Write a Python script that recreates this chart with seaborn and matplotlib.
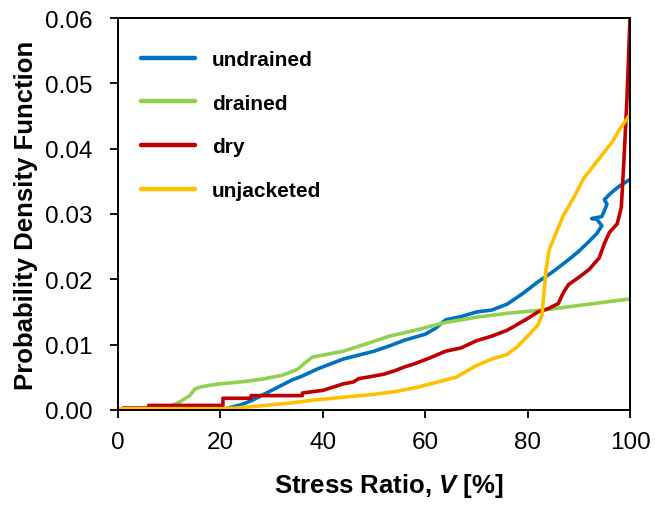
import matplotlib
matplotlib.use("Agg")
import matplotlib.pyplot as plt
import seaborn as sns
import pandas as pd
from matplotlib.ticker import FormatStrFormatter

# ---------------- data ----------------
undrained_x = [0, 20, 22, 24, 26, 28, 30, 32, 34, 36, 39, 42, 44, 47, 50, 53, 56, 60, 62, 64,
               67, 70, 73, 76, 79, 82, 85, 88, 90, 92, 93.5, 94.5, 93.5, 92.5, 94.5, 95, 95.5,
               95, 96, 97, 98, 100]
undrained_y = [0, 0, 0.0004, 0.0008, 0.0014, 0.0022, 0.0030, 0.0038, 0.0046, 0.0052, 0.0063,
               0.0072, 0.0078, 0.0084, 0.0090, 0.0098, 0.0107, 0.0116, 0.0125, 0.0138, 0.0143,
               0.0150, 0.0153, 0.0162, 0.0178, 0.0196, 0.0212, 0.0230, 0.0243, 0.0258, 0.0270,
               0.0282, 0.0292, 0.0293, 0.0296, 0.0305, 0.0315, 0.0322, 0.0330, 0.0337, 0.0343,
               0.0353]

drained_x = [0, 9, 10, 12, 14, 15, 16, 18, 20, 24, 28, 32, 35, 36.5, 38, 40, 44, 48, 53, 58,
             64, 70, 76, 84, 92, 100]
drained_y = [0, 0, 0.0005, 0.0012, 0.0022, 0.0032, 0.0035, 0.0038, 0.0040, 0.0043, 0.0047,
             0.0053, 0.0062, 0.0072, 0.0081, 0.0084, 0.0090, 0.0100, 0.0113, 0.0122, 0.0134,
             0.0142, 0.0148, 0.0154, 0.0162, 0.0170]

dry_x = [0, 1, 1, 6, 6, 20.5, 20.5, 26, 26, 36, 36, 40, 42, 44, 46, 47, 50, 52, 54, 56, 58,
         61, 64, 67, 70, 73, 76, 78, 80, 82, 84, 86, 87, 88, 90, 92, 94, 95, 96, 97.5, 98.3,
         98.8, 99.4, 100]
dry_y = [0, 0, 0.0003, 0.0003, 0.0007, 0.0007, 0.0018, 0.0018, 0.0022, 0.0022, 0.0026, 0.0030,
         0.0035, 0.0040, 0.0043, 0.0048, 0.0052, 0.0055, 0.0060, 0.0066, 0.0071, 0.0080, 0.0090,
         0.0095, 0.0106, 0.0113, 0.0122, 0.0131, 0.0140, 0.0150, 0.0155, 0.0163, 0.0180, 0.0192,
         0.0203, 0.0215, 0.0233, 0.0255, 0.0272, 0.0285, 0.0310, 0.0380, 0.0475, 0.0600]

unjacketed_x = [0, 10, 20, 23, 26, 30, 34, 38, 42, 46, 50, 54, 58, 62, 66, 70, 73, 76, 78, 80,
                82, 82.8, 83.2, 83.6, 84.2, 85.5, 87, 89, 91, 93, 95, 96.5, 98, 100]
unjacketed_y = [0.0002, 0.0002, 0.0002, 0.0003, 0.0005, 0.0008, 0.0011, 0.0015, 0.0018, 0.0021,
                0.0024, 0.0028, 0.0034, 0.0042, 0.0050, 0.0068, 0.0078, 0.0085, 0.0097, 0.0113,
                0.0130, 0.0145, 0.0180, 0.0215, 0.0245, 0.0270, 0.0298, 0.0325, 0.0355, 0.0375,
                0.0395, 0.0410, 0.0430, 0.0452]

series_names = ["undrained", "drained", "dry", "unjacketed"]
series_colors = ["#0070C0", "#92D050", "#C00000", "#FFC000"]
x_ticks = [0, 20, 40, 60, 80, 100]
y_ticks = [0.00, 0.01, 0.02, 0.03, 0.04, 0.05, 0.06]

frames = []
for name, xs, ys in zip(series_names,
                        [undrained_x, drained_x, dry_x, unjacketed_x],
                        [undrained_y, drained_y, dry_y, unjacketed_y]):
    frames.append(pd.DataFrame({"x": xs, "y": ys, "series": name}))
df = pd.concat(frames, ignore_index=True)

# ---------------- plot ----------------
sns.set_theme(style="white")
plt.rcParams["font.family"] = ["Liberation Sans", "DejaVu Sans"]
plt.rcParams["text.color"] = "black"
plt.rcParams["axes.labelcolor"] = "black"
plt.rcParams["mathtext.fontset"] = "custom"
plt.rcParams["mathtext.rm"] = "Liberation Sans:bold"
plt.rcParams["mathtext.it"] = "Liberation Sans:italic:bold"
plt.rcParams["mathtext.bf"] = "Liberation Sans:bold"

fig = plt.figure(figsize=(6.55, 5.06), dpi=100)
ax = fig.add_axes([118 / 655, 1 - 411 / 506, 512 / 655, 392 / 506])

sns.lineplot(data=df, x="x", y="y", hue="series", hue_order=series_names,
             palette=dict(zip(series_names, series_colors)), sort=False,
             estimator=None, linewidth=2.6, ax=ax)

ax.set_xlim(0, 100)
ax.set_ylim(0, 0.06)
ax.set_xticks(x_ticks)
ax.set_yticks(y_ticks)
ax.yaxis.set_major_formatter(FormatStrFormatter("%.2f"))
ax.tick_params(axis="both", direction="out", length=6, width=1.3, color="black",
               labelsize=17.5, labelcolor="black", bottom=True, left=True)
ax.tick_params(axis="x", pad=9)
ax.tick_params(axis="y", pad=12)
for s in ax.spines.values():
    s.set_visible(True)
    s.set_color("black")
    s.set_linewidth(1.4)

ax.set_xlabel("Stress Ratio, $V$ [%]", fontsize=18.5, fontweight="bold")
ax.set_ylabel("Probability Density Function", fontsize=18.5, fontweight="bold", labelpad=5)
ax.xaxis.set_label_coords(0.529, -0.155)

leg = ax.legend(loc="upper left", bbox_to_anchor=(0.045, 0.918), frameon=False,
                borderaxespad=0, borderpad=0, handlelength=2.6, handletextpad=0.8,
                labelspacing=1.18, prop={"weight": "bold", "size": 15})
for line in leg.get_lines():
    line.set_linewidth(3.2)

fig.savefig("out.png", dpi=100)
